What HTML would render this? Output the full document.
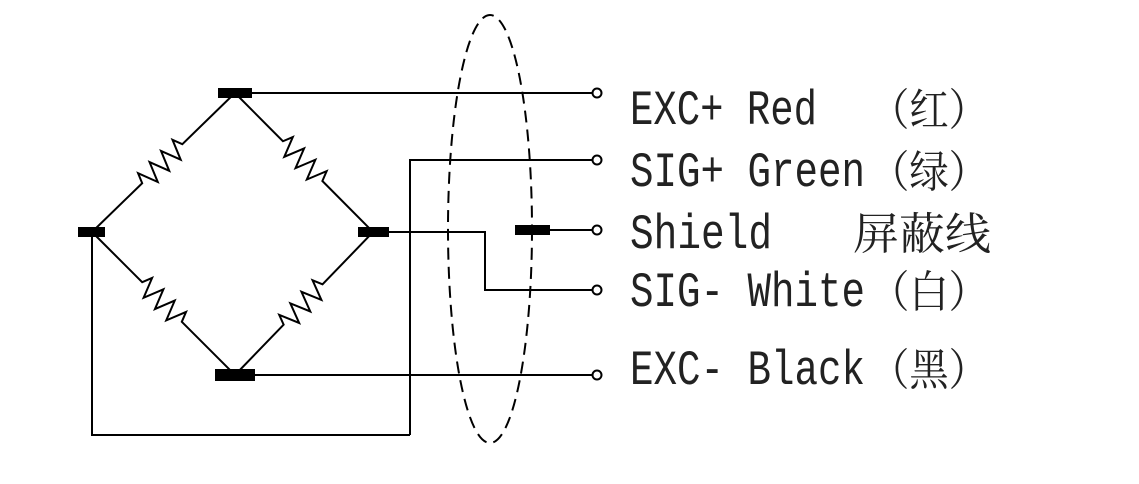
<!DOCTYPE html>
<html><head><meta charset="utf-8"><style>html,body{margin:0;padding:0;background:#fff}</style></head>
<body>
<svg width="1139" height="479" viewBox="0 0 1139 479" xmlns="http://www.w3.org/2000/svg">
<g fill="none" stroke="#000" stroke-width="2">
<g transform="translate(92,232) rotate(-44.2)"><path d="M0 0 H70 l4 -10 l8 20 l8 -20 l8 20 l8 -20 l8 20 l8 -20 l4 10 H199"/></g>
<g transform="translate(235,93) rotate(45.2)"><path d="M0 0 H68 l4 -10 l8 20 l8 -20 l8 20 l8 -20 l8 20 l8 -20 l4 10 H196"/></g>
<g transform="translate(92,232) rotate(45)"><path d="M0 0 H71 l4 -10 l8 20 l8 -20 l8 20 l8 -20 l8 20 l8 -20 l4 10 H202"/></g>
<g transform="translate(235,375) rotate(-46)"><path d="M0 0 H70 l4 -10 l8 20 l8 -20 l8 20 l8 -20 l8 20 l8 -20 l4 10 H199"/></g>
<path d="M252 93 H592"/>
<path d="M410 435 V160 H592"/>
<path d="M92 232 V435 H410"/>
<path d="M389 232 H485 V290 H592"/>
<path d="M255 375 H592"/>
<path d="M550 230 H592"/>
<ellipse cx="490" cy="229" rx="42" ry="214" stroke-dasharray="12 7"/>
<circle cx="597" cy="93" r="4.5"/>
<circle cx="597" cy="160" r="4.5"/>
<circle cx="597" cy="230" r="4.5"/>
<circle cx="597" cy="290" r="4.5"/>
<circle cx="597" cy="375" r="4.5"/>
</g>
<g fill="#000">
<rect x="218" y="88" width="34" height="10"/>
<rect x="78" y="227" width="27" height="10"/>
<rect x="358" y="227" width="31" height="10"/>
<rect x="215" y="369" width="40" height="12"/>
<rect x="515" y="225" width="35" height="10"/>
</g>
<g font-family="'Liberation Mono','Noto Serif CJK SC',monospace" font-size="38" fill="#222">
<text transform="translate(630,124) scale(1,1.3)" textLength="187" lengthAdjust="spacingAndGlyphs">EXC+ Red</text>
<text transform="translate(630,186) scale(1,1.3)" textLength="235" lengthAdjust="spacingAndGlyphs">SIG+ Green</text>
<text transform="translate(630,248) scale(1,1.3)" textLength="142" lengthAdjust="spacingAndGlyphs">Shield</text>
<text transform="translate(630,306) scale(1,1.3)" textLength="235" lengthAdjust="spacingAndGlyphs">SIG- White</text>
<text transform="translate(630,384) scale(1,1.3)" textLength="235" lengthAdjust="spacingAndGlyphs">EXC- Black</text>
</g>
<g font-family="'Liberation Serif','Noto Serif CJK SC',serif" font-size="44" fill="#222">
<text x="870" y="125" textLength="118" lengthAdjust="spacingAndGlyphs">（红）</text>
<text x="870" y="187" textLength="118" lengthAdjust="spacingAndGlyphs">（绿）</text>
<text x="853" y="249" textLength="138" lengthAdjust="spacingAndGlyphs">屏蔽线</text>
<text x="870" y="307" textLength="118" lengthAdjust="spacingAndGlyphs">（白）</text>
<text x="870" y="385" textLength="118" lengthAdjust="spacingAndGlyphs">（黑）</text>
</g>
</svg>
</body></html>
